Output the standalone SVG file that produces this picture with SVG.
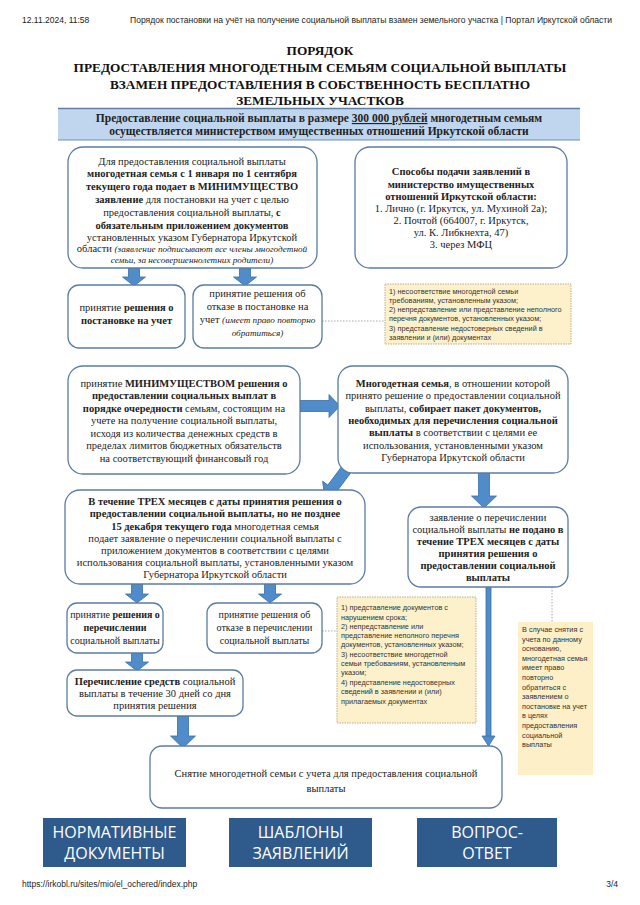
<svg xmlns="http://www.w3.org/2000/svg" width="640" height="905" viewBox="0 0 640 905">
<style>
.hdr{font-family:"Liberation Sans",Arial,sans-serif;font-size:8.5px;fill:#222}
.ttl{font-family:"Liberation Serif","Times New Roman",serif;font-size:13.3px;font-weight:bold;fill:#111;text-anchor:middle}
.ban{font-family:"Liberation Serif","Times New Roman",serif;font-size:11.5px;font-weight:bold;fill:#222;text-anchor:middle}
.bx{fill:#fff;stroke:#5a7ca3;stroke-width:1.3}
.t{font-family:"Liberation Serif","Times New Roman",serif;font-size:10.5px;fill:#222;text-anchor:middle}
.s{font-size:10px}
.b{font-weight:bold}
.i{font-style:italic;font-size:9.2px}
.arr{fill:#4f8cc9;stroke:#3a6fa6;stroke-width:0.8}
.dot{stroke:#aaa;stroke-width:1;stroke-dasharray:1.5 1.5;fill:none}
.note{fill:#fdf1cc;stroke:#bfae80;stroke-width:1;stroke-dasharray:1.5 1}
.nt{font-family:"Liberation Sans",Arial,sans-serif;font-size:7.3px;fill:#333}
.btn{fill:#2f5a8c}
.bt{font-family:"Open Sans","Liberation Sans",sans-serif;font-size:16px;fill:#fff;text-anchor:middle}
</style>

<g id="header">
<text class="hdr" x="22" y="23">12.11.2024, 11:58</text>
<text class="hdr" x="130" y="23" textLength="482" lengthAdjust="spacingAndGlyphs">Порядок постановки на учёт на получение социальной выплаты взамен земельного участка | Портал Иркутской области</text>
</g>

<g id="title">
<text class="ttl" x="320" y="55">ПОРЯДОК</text>
<text class="ttl" x="320" y="72">ПРЕДОСТАВЛЕНИЯ МНОГОДЕТНЫМ СЕМЬЯМ СОЦИАЛЬНОЙ ВЫПЛАТЫ</text>
<text class="ttl" x="320" y="89">ВЗАМЕН ПРЕДОСТАВЛЕНИЯ В СОБСТВЕННОСТЬ БЕСПЛАТНО</text>
<text class="ttl" x="320" y="105">ЗЕМЕЛЬНЫХ УЧАСТКОВ</text>
</g>

<g id="banner">
<rect x="58" y="108" width="522" height="32" fill="#bfd6ee"/>
<line x1="58" y1="108.5" x2="580" y2="108.5" stroke="#5f7fa3" stroke-width="1.5"/>
<line x1="58" y1="140" x2="580" y2="140" stroke="#6f8fb3" stroke-width="1"/>
<text class="ban" x="319" y="122">Предоставление социальной выплаты в размере <tspan text-decoration="underline">300 000 рублей</tspan> многодетным семьям</text>
<text class="ban" x="319" y="135">осуществляется министерством имущественных отношений Иркутской области</text>
</g>

<g id="connectors">
<polygon class="arr" points="128.5,268 139.5,268 139.5,277 145.5,277 134,286 122.5,277 128.5,277"/>
<polygon class="arr" points="239.5,268 250.5,268 250.5,277 256.5,277 245,286 233.5,277 239.5,277"/>
<line class="dot" x1="322" y1="321" x2="385" y2="321"/>
<polygon class="arr" points="300,400.5 329,400.5 329,394.5 340,406 329,417.5 329,411.5 300,411.5"/>
<g transform="translate(352,462) rotate(36.87)"><polygon class="arr" points="-5.5,0 5.5,0 5.5,33 12,33 0,45 -12,33 -5.5,33"/></g>
<polygon class="arr" points="478.5,472 489.5,472 489.5,496 496.5,496 484,508 471.5,496 478.5,496"/>
<polygon class="arr" points="131.5,584 142.5,584 142.5,594 148.5,594 137,603 125.5,594 131.5,594"/>
<polygon class="arr" points="264.5,584 275.5,584 275.5,594 281.5,594 270,603 258.5,594 264.5,594"/>
<line class="dot" x1="322" y1="631" x2="337" y2="631"/>
<polygon class="arr" points="131.5,653 142.5,653 142.5,662 148.5,662 137,671 125.5,662 131.5,662"/>
<polygon class="arr" points="177.5,716 188.5,716 188.5,736 195.5,736 183,748 170.5,736 177.5,736"/>
<rect class="arr" x="486" y="587" width="5" height="150"/>
<polygon class="arr" points="482,736 495,736 488.5,746"/>
<line class="dot" x1="552" y1="587" x2="552" y2="622"/>
</g>

<g id="n1">
<rect class="bx" x="68" y="147" width="249" height="121" rx="15"/>
<text class="t" x="192" y="165">Для предоставления социальной выплаты</text>
<text class="t b" x="192" y="177">многодетная семья с 1 января по 1 сентября</text>
<text class="t b" x="192" y="190">текущего года подает в МИНИМУЩЕСТВО</text>
<text class="t" x="192" y="203"><tspan class="b">заявление</tspan> для постановки на учет с целью</text>
<text class="t" x="192" y="216">предоставления социальной выплаты, <tspan class="b">с</tspan></text>
<text class="t b" x="192" y="229">обязательным приложением документов</text>
<text class="t" x="192" y="241">установленных указом Губернатора Иркутской</text>
<text class="t" x="192" y="252">области <tspan class="i">(заявление подписывают все члены многодетной</tspan></text>
<text class="t i" x="192" y="263">семьи, за несовершеннолетних родители)</text>
</g>

<g id="n2">
<rect class="bx" x="355" y="147" width="212" height="121" rx="15"/>
<text class="t b" x="461" y="175">Способы подачи заявлений в</text>
<text class="t b" x="461" y="188">министерство имущественных</text>
<text class="t b" x="461" y="200">отношений Иркутской области:</text>
<text class="t" x="461" y="212">1. Лично (г. Иркутск, ул. Мухиной 2а);</text>
<text class="t" x="461" y="224">2. Почтой (664007, г. Иркутск,</text>
<text class="t" x="461" y="236">ул. К. Либкнехта, 47)</text>
<text class="t" x="461" y="248">3. через МФЦ</text>
</g>

<g id="n3">
<rect class="bx" x="68" y="285" width="117" height="63" rx="11"/>
<text class="t" x="126.5" y="311">принятие <tspan class="b">решения о</tspan></text>
<text class="t b" x="126.5" y="324">постановке на учет</text>
</g>

<g id="n4">
<rect class="bx" x="193" y="285" width="129" height="63" rx="11"/>
<text class="t" x="257.5" y="297">принятие решения об</text>
<text class="t" x="257.5" y="310">отказе в постановке на</text>
<text class="t" x="257.5" y="323">учет <tspan class="i">(имеет право повторно</tspan></text>
<text class="t i" x="257.5" y="336">обратиться)</text>
</g>

<g id="note1">
<rect class="note" x="385" y="284" width="186" height="60"/>
<text class="nt" x="389" y="294">1) несоответствие многодетной семьи</text>
<text class="nt" x="389" y="303">требованиям, установленным указом;</text>
<text class="nt" x="389" y="312">2) непредставление или представление неполного</text>
<text class="nt" x="389" y="321">перечня документов, установленных указом;</text>
<text class="nt" x="389" y="331">3) представление недостоверных сведений в</text>
<text class="nt" x="389" y="340">заявлении и (или) документах</text>
</g>

<g id="n5">
<rect class="bx" x="68" y="366" width="232" height="108" rx="15"/>
<text class="t" x="184" y="387">принятие <tspan class="b">МИНИМУЩЕСТВОМ решения о</tspan></text>
<text class="t b" x="184" y="399">предоставлении социальных выплат в</text>
<text class="t" x="184" y="412"><tspan class="b">порядке очередности</tspan> семьям, состоящим на</text>
<text class="t" x="184" y="424">учете на получение социальной выплаты,</text>
<text class="t" x="184" y="437">исходя из количества денежных средств в</text>
<text class="t" x="184" y="449">пределах лимитов бюджетных обязательств</text>
<text class="t" x="184" y="462">на соответствующий финансовый год</text>
</g>

<g id="n6">
<rect class="bx" x="338" y="366" width="230" height="107" rx="15"/>
<text class="t" x="453" y="387"><tspan class="b">Многодетная семья</tspan>, в отношении которой</text>
<text class="t" x="453" y="399">принято решение о предоставлении социальной</text>
<text class="t" x="453" y="412">выплаты, <tspan class="b">собирает пакет документов,</tspan></text>
<text class="t b" x="453" y="424">необходимых для перечисления социальной</text>
<text class="t" x="453" y="436"><tspan class="b">выплаты</tspan> в соответствии с целями ее</text>
<text class="t" x="453" y="449">использования, установленными указом</text>
<text class="t" x="453" y="461">Губернатора Иркутской области</text>
</g>

<g id="n7">
<rect class="bx" x="65" y="490" width="300" height="94" rx="15"/>
<text class="t b" x="215" y="505">В течение ТРЕХ месяцев с даты принятия решения о</text>
<text class="t b" x="215" y="517">предоставлении социальной выплаты, но не позднее</text>
<text class="t" x="215" y="530"><tspan class="b">15 декабря текущего года</tspan> многодетная семья</text>
<text class="t" x="215" y="542">подает заявление о перечислении социальной выплаты с</text>
<text class="t" x="215" y="554">приложением документов в соответствии с целями</text>
<text class="t" x="215" y="566">использования социальной выплаты, установленными указом</text>
<text class="t" x="215" y="578">Губернатора Иркутской области</text>
</g>

<g id="n8">
<rect class="bx" x="408" y="507" width="160" height="80" rx="13"/>
<text class="t" x="488" y="521">заявление о перечислении</text>
<text class="t" x="488" y="533">социальной выплаты <tspan class="b">не подано в</tspan></text>
<text class="t b" x="488" y="545">течение ТРЕХ месяцев с даты</text>
<text class="t b" x="488" y="557">принятия решения о</text>
<text class="t b" x="488" y="569">предоставлении социальной</text>
<text class="t b" x="488" y="581">выплаты</text>
</g>

<g id="n10">
<rect class="bx" x="67" y="603" width="96" height="50" rx="10"/>
<text class="t s" x="115" y="618">принятие <tspan class="b">решения о</tspan></text>
<text class="t s b" x="115" y="631">перечислении</text>
<text class="t s" x="115" y="644">социальной выплаты</text>
</g>

<g id="n11">
<rect class="bx" x="207" y="603" width="115" height="50" rx="10"/>
<text class="t s" x="264.5" y="618">принятие решения об</text>
<text class="t s" x="264.5" y="631">отказе в перечислении</text>
<text class="t s" x="264.5" y="644">социальной выплаты</text>
</g>

<g id="n12">
<rect class="bx" x="67" y="670" width="176" height="46" rx="10"/>
<text class="t" x="155" y="685"><tspan class="b">Перечисление средств</tspan> социальной</text>
<text class="t" x="155" y="697">выплаты в течение 30 дней со дня</text>
<text class="t" x="155" y="709">принятия решения</text>
</g>

<g id="note2">
<rect class="note" x="337" y="597" width="139" height="126"/>
<text class="nt" x="341" y="610">1) представление документов с</text>
<text class="nt" x="341" y="620">нарушением срока;</text>
<text class="nt" x="341" y="629">2) непредставление или</text>
<text class="nt" x="341" y="638">представление неполного перечня</text>
<text class="nt" x="341" y="647">документов, установленных указом;</text>
<text class="nt" x="341" y="657">3) несоответствие многодетной</text>
<text class="nt" x="341" y="666">семьи требованиям, установленным</text>
<text class="nt" x="341" y="675">указом;</text>
<text class="nt" x="341" y="685">4) представление недостоверных</text>
<text class="nt" x="341" y="694">сведений в заявлении и (или)</text>
<text class="nt" x="341" y="704">прилагаемых документах</text>
</g>

<g id="note3">
<rect x="518" y="622" width="75" height="153" fill="#fdf0c8"/>
<text class="nt" x="522" y="632" font-size="6.3">В случае снятия с</text>
<text class="nt" x="522" y="641.6" font-size="6.3">учета по данному</text>
<text class="nt" x="522" y="651.2" font-size="6.3">основанию,</text>
<text class="nt" x="522" y="660.8" font-size="6.3">многодетная семья</text>
<text class="nt" x="522" y="670.4" font-size="6.3">имеет право</text>
<text class="nt" x="522" y="680" font-size="6.3">повторно</text>
<text class="nt" x="522" y="689.6" font-size="6.3">обратиться с</text>
<text class="nt" x="522" y="699.2" font-size="6.3">заявлением о</text>
<text class="nt" x="522" y="708.8" font-size="6.3">постановке на учет</text>
<text class="nt" x="522" y="718.4" font-size="6.3">в целях</text>
<text class="nt" x="522" y="728" font-size="6.3">предоставления</text>
<text class="nt" x="522" y="737.6" font-size="6.3">социальной</text>
<text class="nt" x="522" y="747.2" font-size="6.3">выплаты</text>
</g>

<g id="n9">
<rect class="bx" x="150" y="746" width="352" height="62" rx="12"/>
<text class="t" x="326" y="777">Снятие многодетной семьи с учета для предоставления социальной</text>
<text class="t" x="326" y="792">выплаты</text>
</g>

<g id="buttons">
<rect class="btn" x="43" y="818" width="143" height="49"/>
<text class="bt" x="114.5" y="838">НОРМАТИВНЫЕ</text>
<text class="bt" x="114.5" y="859">ДОКУМЕНТЫ</text>
<rect class="btn" x="229" y="818" width="143" height="49"/>
<text class="bt" x="300.5" y="838">ШАБЛОНЫ</text>
<text class="bt" x="300.5" y="859">ЗАЯВЛЕНИЙ</text>
<rect class="btn" x="417" y="818" width="140" height="49"/>
<text class="bt" x="487" y="838">ВОПРОС-</text>
<text class="bt" x="487" y="859">ОТВЕТ</text>
</g>

<g id="footer">
<text class="hdr" x="22" y="887">https://irkobl.ru/sites/mio/el_ochered/index.php</text>
<text class="hdr" x="618" y="887" text-anchor="end">3/4</text>
</g>
</svg>
